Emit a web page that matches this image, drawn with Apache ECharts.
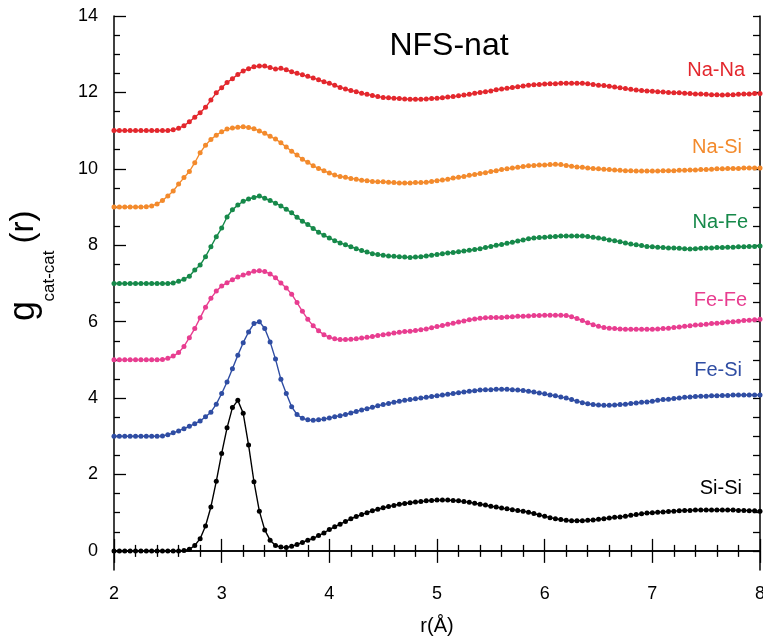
<!DOCTYPE html>
<html>
<head>
<meta charset="utf-8">
<script src="https://cdn.jsdelivr.net/npm/echarts@6/dist/echarts.min.js"></script>
<style>html,body{margin:0;padding:0;background:#fff}#c{width:763px;height:644px}</style>
</head>
<body>
<div id="c"></div>
<script>
// r grid (Å)
var rValues = [2.00,2.05,2.10,2.15,2.20,2.25,2.30,2.35,2.40,2.45,2.50,2.55,2.60,2.65,2.70,2.75,2.80,2.85,2.90,2.95,
3.00,3.05,3.10,3.15,3.20,3.25,3.30,3.35,3.40,3.45,3.50,3.55,3.60,3.65,3.70,3.75,3.80,3.85,3.90,3.95,
4.00,4.05,4.10,4.15,4.20,4.25,4.30,4.35,4.40,4.45,4.50,4.55,4.60,4.65,4.70,4.75,4.80,4.85,4.90,4.95,
5.00,5.05,5.10,5.15,5.20,5.25,5.30,5.35,5.40,5.45,5.50,5.55,5.60,5.65,5.70,5.75,5.80,5.85,5.90,5.95,
6.00,6.05,6.10,6.15,6.20,6.25,6.30,6.35,6.40,6.45,6.50,6.55,6.60,6.65,6.70,6.75,6.80,6.85,6.90,6.95,
7.00,7.05,7.10,7.15,7.20,7.25,7.30,7.35,7.40,7.45,7.50,7.55,7.60,7.65,7.70,7.75,7.80,7.85,7.90,7.95,8.00];

var naNa = [11.00,11.00,11.00,11.00,11.00,11.00,11.00,11.00,11.00,11.00,
11.00,11.02,11.06,11.13,11.23,11.35,11.47,11.61,11.80,11.99,
12.12,12.26,12.36,12.47,12.56,12.62,12.67,12.69,12.69,12.65,
12.61,12.63,12.59,12.54,12.50,12.46,12.42,12.38,12.33,12.28,
12.24,12.19,12.13,12.09,12.05,12.02,11.98,11.95,11.92,11.89,
11.87,11.86,11.85,11.84,11.83,11.82,11.82,11.82,11.83,11.84,
11.85,11.86,11.88,11.89,11.91,11.93,11.95,11.98,12.00,12.02,
12.04,12.07,12.09,12.11,12.13,12.15,12.17,12.19,12.20,12.21,
12.22,12.23,12.23,12.24,12.24,12.24,12.24,12.24,12.23,12.21,
12.19,12.18,12.16,12.14,12.12,12.10,12.08,12.06,12.05,12.04,
12.03,12.02,12.01,12.00,11.99,11.99,11.98,11.97,11.96,11.96,
11.95,11.94,11.94,11.93,11.94,11.94,11.95,11.96,11.96,11.97,
11.97];

var naSi = [9.00,9.00,9.00,9.00,9.00,9.00,9.01,9.03,9.08,9.17,
9.29,9.42,9.60,9.77,9.93,10.16,10.42,10.62,10.77,10.88,
10.97,11.04,11.07,11.09,11.10,11.08,11.05,10.99,10.93,10.85,
10.78,10.68,10.57,10.46,10.36,10.25,10.17,10.08,10.01,9.95,
9.89,9.84,9.80,9.78,9.75,9.73,9.70,9.69,9.67,9.66,
9.66,9.65,9.64,9.63,9.63,9.63,9.64,9.64,9.65,9.67,
9.69,9.71,9.73,9.76,9.78,9.80,9.83,9.85,9.88,9.90,
9.93,9.95,9.98,10.00,10.02,10.04,10.06,10.08,10.09,10.10,
10.10,10.11,10.12,10.11,10.09,10.07,10.05,10.04,10.02,10.01,
10.00,9.99,9.98,9.97,9.96,9.95,9.95,9.94,9.94,9.94,
9.94,9.94,9.95,9.95,9.95,9.96,9.96,9.97,9.97,9.98,
9.98,9.99,10.00,10.00,10.01,10.01,10.01,10.02,10.02,10.02,
10.02];

var naFe = [7.00,7.00,7.00,7.00,7.00,7.00,7.00,7.00,7.00,7.00,
7.00,7.01,7.06,7.11,7.19,7.35,7.48,7.70,7.96,8.22,
8.45,8.74,8.93,9.05,9.15,9.21,9.25,9.29,9.23,9.17,
9.10,9.03,8.94,8.85,8.73,8.63,8.54,8.44,8.34,8.26,
8.19,8.12,8.06,8.01,7.96,7.91,7.86,7.82,7.78,7.76,
7.74,7.72,7.71,7.70,7.69,7.68,7.69,7.70,7.72,7.74,
7.76,7.78,7.80,7.81,7.83,7.85,7.87,7.89,7.91,7.94,
7.97,8.00,8.02,8.05,8.08,8.11,8.14,8.17,8.19,8.20,
8.21,8.22,8.23,8.24,8.24,8.24,8.24,8.24,8.23,8.21,
8.19,8.17,8.14,8.12,8.09,8.06,8.03,8.01,7.99,7.97,
7.96,7.95,7.94,7.93,7.93,7.92,7.91,7.90,7.91,7.92,
7.93,7.93,7.94,7.94,7.95,7.95,7.96,7.96,7.97,7.97,
7.98];

var feFe = [5.00,5.00,5.00,5.00,5.00,5.00,5.00,5.00,5.00,5.01,
5.04,5.10,5.19,5.35,5.58,5.82,6.10,6.38,6.61,6.80,
6.93,7.02,7.10,7.17,7.22,7.27,7.32,7.33,7.31,7.25,
7.15,7.01,6.88,6.72,6.50,6.27,6.06,5.89,5.76,5.66,
5.59,5.55,5.53,5.53,5.54,5.55,5.57,5.59,5.61,5.64,
5.66,5.68,5.70,5.72,5.74,5.75,5.77,5.79,5.81,5.84,
5.87,5.90,5.93,5.96,5.99,6.02,6.05,6.07,6.09,6.10,
6.11,6.11,6.11,6.12,6.13,6.14,6.14,6.15,6.16,6.16,
6.17,6.17,6.17,6.17,6.16,6.13,6.08,6.03,5.97,5.92,
5.88,5.85,5.83,5.82,5.81,5.80,5.80,5.80,5.80,5.80,
5.80,5.81,5.82,5.83,5.85,5.86,5.88,5.89,5.91,5.92,
5.93,5.95,5.96,5.97,5.99,6.00,6.01,6.03,6.04,6.05,
6.06];

var feSi = [3.00,3.00,3.00,3.00,3.00,3.00,3.00,3.00,3.00,3.01,
3.04,3.09,3.14,3.20,3.26,3.33,3.40,3.51,3.63,3.84,
4.12,4.42,4.77,5.12,5.45,5.73,5.95,6.00,5.82,5.47,
5.02,4.49,4.12,3.77,3.57,3.47,3.43,3.42,3.43,3.45,
3.48,3.51,3.54,3.57,3.61,3.65,3.69,3.72,3.76,3.80,
3.83,3.86,3.89,3.92,3.94,3.96,3.98,4.00,4.02,4.04,
4.06,4.08,4.10,4.12,4.14,4.16,4.18,4.19,4.21,4.22,
4.22,4.23,4.23,4.23,4.22,4.21,4.20,4.18,4.16,4.13,
4.11,4.08,4.06,4.03,4.00,3.96,3.92,3.88,3.85,3.83,
3.82,3.81,3.81,3.82,3.83,3.84,3.86,3.87,3.89,3.90,
3.92,3.94,3.96,3.97,3.99,4.00,4.02,4.03,4.04,4.05,
4.05,4.06,4.06,4.07,4.07,4.08,4.08,4.08,4.08,4.08,
4.08];

var siSi = [0,0,0,0,0,0,0,0,0,0,0,0,0,
0.01,0.04,0.14,0.32,0.65,1.15,1.82,2.55,3.22,3.75,3.94,3.60,2.77,1.81,1.04,0.55,0.28,0.14,0.10,0.09,0.12,
0.17,0.22,0.28,0.33,0.40,0.47,0.56,0.63,0.70,0.77,0.84,0.90,0.95,
1.00,1.05,1.09,1.13,1.16,1.19,1.22,1.24,1.26,1.28,
1.29,1.31,1.32,1.33,1.33,1.33,1.32,1.31,1.29,1.27,
1.25,1.22,1.20,1.17,1.15,1.12,1.10,1.08,1.06,1.04,
1.01,0.98,0.94,0.91,0.87,0.84,0.82,0.80,0.79,0.79,
0.79,0.80,0.81,0.83,0.84,0.86,0.88,0.89,0.91,0.93,
0.95,0.97,0.99,1.00,1.01,1.02,1.03,1.04,1.05,1.06,
1.06,1.07,1.07,1.07,1.07,1.07,1.07,1.07,1.07,1.06,
1.06,1.05,1.05,1.04];

var seriesNames = ['Na-Na','Na-Si','Na-Fe','Fe-Fe','Fe-Si','Si-Si'];
var seriesData = [naNa, naSi, naFe, feFe, feSi, siSi];
var seriesColors = ['#e3272d','#f38a2c','#16894a','#e83d90','#2f4da3','#000000'];

var yMajorTicks = [0,2,4,6,8,10,12,14];
var yMinorTicks = [0.5,1,1.5,2.5,3,3.5,4.5,5,5.5,6.5,7,7.5,8.5,9,9.5,10.5,11,11.5,12.5,13,13.5];
var yAllTicks = [0,0.5,1,1.5,2,2.5,3,3.5,4,4.5,5,5.5,6,6.5,7,7.5,8,8.5,9,9.5,10,10.5,11,11.5,12,12.5,13,13.5,14];

var FONT = '"Liberation Sans", Arial, Helvetica, sans-serif';
var chart = echarts.init(document.getElementById('c'), null, {renderer: 'canvas'});

function pairs(arr) { return arr.map(function (v, i) { return [rValues[i], v]; }); }

var axisLineStyle = {color: '#000', width: 1.5};

var series = seriesNames.map(function (n, i) {
  return {
    name: n, type: 'line', data: pairs(seriesData[i]),
    xAxisIndex: 0, yAxisIndex: 0,
    showSymbol: true, symbol: 'circle', symbolSize: 5,
    lineStyle: {color: seriesColors[i], width: 1.4},
    itemStyle: {color: seriesColors[i]},
    animation: false, z: 3
  };
});

// label positions for series names
var labelPos = [[745, 70], [742, 147], [748, 222], [747, 300], [742, 370], [742, 488]];
var graphics = seriesNames.map(function (n, i) {
  return {type: 'text', x: labelPos[i][0], y: labelPos[i][1], z: 10,
    style: {text: n, fill: seriesColors[i], font: '20px ' + FONT, textAlign: 'right', textVerticalAlign: 'middle'}};
});
graphics.push({type: 'text', x: 449, y: 46, z: 10,
  style: {text: 'NFS-nat', fill: '#000', font: '32px ' + FONT, textAlign: 'center', textVerticalAlign: 'middle'}});
// y axis title g_cat-cat(r)
graphics.push({type: 'text', x: 24, y: 311, rotation: Math.PI / 2, z: 10,
  style: {text: 'g', fill: '#000', font: '36px ' + FONT, textAlign: 'center', textVerticalAlign: 'middle'}});
graphics.push({type: 'text', x: 49, y: 276, rotation: Math.PI / 2, z: 10,
  style: {text: 'cat-cat', fill: '#000', font: '17px ' + FONT, textAlign: 'center', textVerticalAlign: 'middle'}});
graphics.push({type: 'text', x: 24, y: 227, rotation: Math.PI / 2, z: 10,
  style: {text: '(r)', fill: '#000', font: '33px ' + FONT, textAlign: 'center', textVerticalAlign: 'middle'}});

var option = {
  backgroundColor: '#fff',
  animation: false,
  grid: {left: 114, right: 3, top: 16, bottom: 74, containLabel: false, outerBoundsMode: 'none'},
  xAxis: [{
    type: 'value', position: 'bottom', min: 2, max: 8, interval: 1,
    axisLine: {show: true, lineStyle: axisLineStyle},
    axisTick: {show: true, inside: true, length: 12, lineStyle: {color: '#000', width: 1.3}},
    minorTick: {show: true, splitNumber: 5, length: 6, lineStyle: {color: '#000', width: 1.3}},
    splitLine: {show: false}, minorSplitLine: {show: false},
    axisLabel: {color: '#000', fontSize: 18, fontFamily: FONT, margin: 15},
    name: 'r(Å)', nameLocation: 'middle', nameGap: 46,
    nameTextStyle: {color: '#000', fontSize: 20, fontFamily: FONT}
  }, {
    type: 'value', position: 'top', min: 2, max: 8, interval: 1,
    axisLine: {show: true, lineStyle: axisLineStyle},
    axisTick: {show: true, inside: true, length: 12, lineStyle: {color: '#000', width: 1.3}},
    minorTick: {show: true, splitNumber: 5, length: 6, lineStyle: {color: '#000', width: 1.3}},
    splitLine: {show: false}, axisLabel: {show: false}
  }],
  yAxis: [{
    type: 'value', position: 'left', min: -0.5, max: 14,
    axisLine: {show: true, lineStyle: axisLineStyle},
    axisTick: {show: true, inside: true, length: 12, customValues: yMajorTicks, lineStyle: {color: '#000', width: 1.3}},
    splitLine: {show: false},
    axisLabel: {color: '#000', fontSize: 18, fontFamily: FONT, margin: 16, customValues: yMajorTicks}
  }, {
    type: 'value', position: 'left', min: -0.5, max: 14,
    axisLine: {show: false},
    axisTick: {show: true, inside: true, length: 6, customValues: yMinorTicks, lineStyle: {color: '#000', width: 1.3}},
    splitLine: {show: false}, axisLabel: {show: false}
  }, {
    type: 'value', position: 'right', min: -0.5, max: 14,
    axisLine: {show: true, lineStyle: axisLineStyle},
    axisTick: {show: true, inside: true, length: 7, customValues: yAllTicks, lineStyle: {color: '#000', width: 1.3}},
    splitLine: {show: false}, axisLabel: {show: false}
  }],
  series: series,
  graphic: graphics
};
chart.setOption(option);
</script>
</body>
</html>
